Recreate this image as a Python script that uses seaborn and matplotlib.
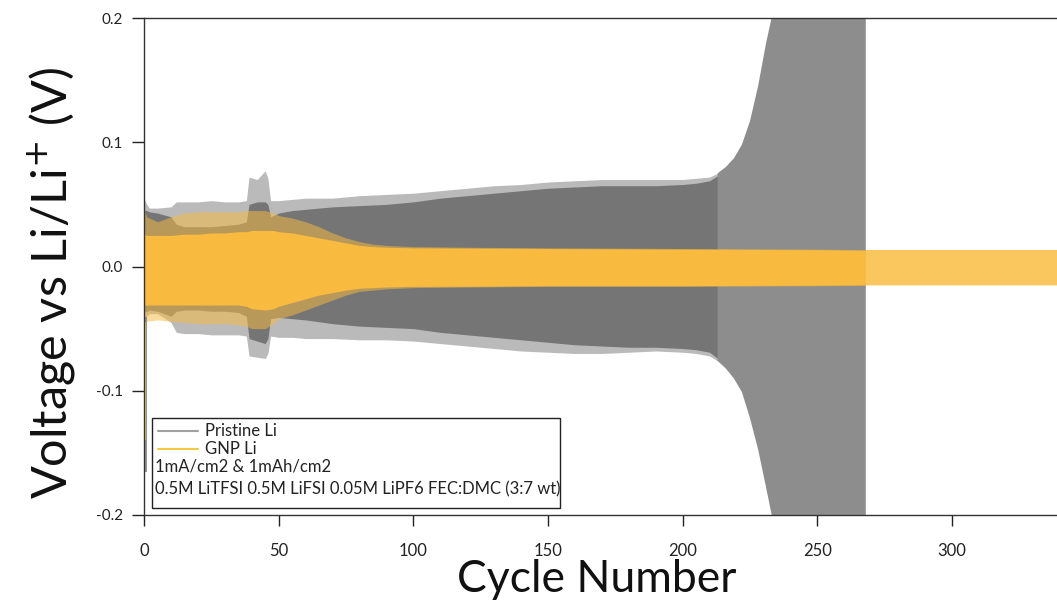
import numpy as np
import pandas as pd
import matplotlib
matplotlib.use("Agg")
import matplotlib.pyplot as plt
import seaborn as sns
from matplotlib.patches import Rectangle

# ---------------- data ----------------
# Pristine Li (grey)
P_cyc = [0, 1, 2, 5, 10, 12, 15, 20, 25, 30, 35, 38, 39, 42, 45, 46, 47, 50, 55, 60,
         70, 80, 90, 100, 110, 120, 130, 140, 150, 160, 170, 180, 190, 200, 205, 210,
         213, 216, 219, 222, 225, 228, 231, 234, 237, 240, 250, 260, 268]
P_peak_hi = [0.055, 0.050, 0.047, 0.047, 0.048, 0.052, 0.052, 0.052, 0.053, 0.052, 0.052,
             0.053, 0.072, 0.070, 0.077, 0.071, 0.053, 0.053, 0.054, 0.055, 0.055, 0.057,
             0.058, 0.059, 0.061, 0.063, 0.065, 0.066, 0.068, 0.069, 0.070, 0.070, 0.070,
             0.070, 0.071, 0.072, 0.075, 0.080, 0.087, 0.098, 0.117, 0.145, 0.180, 0.210,
             0.250, 0.250, 0.250, 0.250, 0.250]
P_peak_lo = [-0.041, -0.040, -0.038, -0.038, -0.045, -0.053, -0.054, -0.054, -0.055, -0.055,
             -0.055, -0.056, -0.072, -0.073, -0.074, -0.070, -0.056, -0.057, -0.057, -0.058,
             -0.058, -0.059, -0.059, -0.060, -0.062, -0.064, -0.066, -0.068, -0.069, -0.070,
             -0.070, -0.069, -0.068, -0.069, -0.070, -0.072, -0.076, -0.082, -0.090, -0.101,
             -0.122, -0.147, -0.178, -0.210, -0.250, -0.250, -0.250, -0.250, -0.250]
P_plat_hi = [0.045, 0.045, 0.044, 0.043, 0.040, 0.034, 0.032, 0.032, 0.032, 0.033, 0.034,
             0.036, 0.050, 0.052, 0.052, 0.050, 0.040, 0.043, 0.045, 0.046, 0.048, 0.049,
             0.050, 0.052, 0.055, 0.057, 0.059, 0.061, 0.063, 0.064, 0.065, 0.065, 0.065,
             0.066, 0.067, 0.069, 0.073]
P_plat_lo = [-0.036, -0.036, -0.035, -0.036, -0.040, -0.036, -0.035, -0.035, -0.036, -0.036,
             -0.037, -0.040, -0.058, -0.060, -0.062, -0.058, -0.042, -0.041, -0.042, -0.043,
             -0.046, -0.048, -0.049, -0.050, -0.053, -0.055, -0.057, -0.059, -0.061, -0.063,
             -0.064, -0.065, -0.065, -0.066, -0.067, -0.069, -0.074]
P_first_low = -0.165

# GNP Li (yellow)
G_cyc = [0, 1, 5, 10, 15, 20, 25, 30, 35, 38, 40, 45, 48, 50, 55, 60, 65, 70, 75, 80,
         85, 90, 100, 120, 150, 200, 250, 268, 300, 339]
G_peak_hi = [0.046, 0.040, 0.036, 0.040, 0.043, 0.044, 0.044, 0.044, 0.044, 0.045, 0.045,
             0.045, 0.043, 0.041, 0.039, 0.036, 0.032, 0.027, 0.023, 0.020, 0.018, 0.017,
             0.016, 0.0155, 0.015, 0.0145, 0.014, 0.0135, 0.0135, 0.0135]
G_peak_lo = [-0.045, -0.044, -0.043, -0.044, -0.045, -0.046, -0.046, -0.046, -0.047, -0.048,
             -0.050, -0.050, -0.046, -0.042, -0.039, -0.035, -0.031, -0.027, -0.023, -0.020,
             -0.019, -0.018, -0.017, -0.0165, -0.016, -0.016, -0.0155, -0.015, -0.015, -0.015]
G_plat_hi = [0.026, 0.025, 0.025, 0.025, 0.026, 0.026, 0.027, 0.027, 0.028, 0.028, 0.029,
             0.029, 0.029, 0.028, 0.027, 0.025, 0.023, 0.021, 0.019, 0.017, 0.016, 0.0155,
             0.015, 0.0148, 0.0145, 0.014, 0.0135, 0.013, 0.013, 0.013]
G_plat_lo = [-0.031, -0.031, -0.031, -0.031, -0.031, -0.031, -0.031, -0.031, -0.031, -0.032,
             -0.034, -0.035, -0.034, -0.032, -0.029, -0.026, -0.023, -0.021, -0.019, -0.0175,
             -0.017, -0.0165, -0.016, -0.016, -0.0155, -0.0155, -0.015, -0.0148, -0.0148, -0.0148]
G_first_low = -0.140

x_ticks = [0, 50, 100, 150, 200, 250, 300]
y_ticks = [-0.2, -0.1, 0.0, 0.1, 0.2]
y_tick_labels = ["-0.2", "-0.1", "0.0", "0.1", "0.2"]
legend_series = ["Pristine Li", "GNP Li"]
legend_notes = ["1mA/cm2 & 1mAh/cm2",
                "0.5M LiTFSI 0.5M LiFSI 0.05M LiPF6 FEC:DMC (3:7 wt)"]

# ---------------- styling ----------------
sns.set_theme(style="ticks")
plt.rcParams["font.family"] = ["Lato", "DejaVu Sans"]

C_GREY_LIGHT = "#bababa"
C_GREY_DARK = "#757575"
C_GREY_MID = "#8d8d8d"
C_ORANGE = "#f8bb40"
C_ORANGE_LATE = "#f9c75e"

fig = plt.figure(figsize=(10.57, 6.11), dpi=100)
ax = fig.add_axes([144 / 1057, 96 / 611, 913 / 1057, 497 / 611])

pdf = pd.DataFrame({"cyc": P_cyc, "hi": P_peak_hi, "lo": P_peak_lo})
merge_cycle = P_cyc[len(P_plat_hi) - 1]
early = pdf[pdf.cyc <= merge_cycle]
late = pdf[pdf.cyc >= merge_cycle]
gdf = pd.DataFrame({"cyc": G_cyc, "hi": G_plat_hi, "lo": G_plat_lo})
g_end = P_cyc[-1]
g_early = gdf[gdf.cyc <= g_end]
g_late = gdf[gdf.cyc >= g_end]

# grey: outer peak band (light), plateau band (dark), late merged band (mid)
ax.fill_between(early.cyc, early.lo, early.hi, color=C_GREY_LIGHT, lw=0)
ax.fill_between(P_cyc[:len(P_plat_hi)], P_plat_lo, P_plat_hi, color=C_GREY_DARK, lw=0)
ax.fill_between(late.cyc, late.lo, late.hi, color=C_GREY_MID, lw=0)
ax.vlines([P_cyc[0] + 0.9], [P_first_low], [P_peak_lo[0]], color="#8a8a8a", lw=1.3)

# yellow: outer peak band (semi-transparent), plateau (opaque)
ax.fill_between(G_cyc, G_peak_lo, G_peak_hi, color=C_ORANGE, alpha=0.52, lw=0)
ax.fill_between(g_early.cyc, g_early.lo, g_early.hi, color=C_ORANGE, lw=0)
ax.fill_between(g_late.cyc, g_late.lo, g_late.hi, color=C_ORANGE_LATE, lw=0)
ax.vlines([G_cyc[0] + 0.3], [G_first_low], [G_peak_lo[0]], color="#f2cf55", lw=1.3)

ax.set_xlim(0, 339)
ax.set_ylim(-0.2, 0.2)
ax.set_xticks(x_ticks)
ax.set_xticklabels([str(t) for t in x_ticks], fontsize=12)
ax.set_yticks(y_ticks)
ax.set_yticklabels(y_tick_labels, fontsize=11)
ax.tick_params(axis="x", direction="out", length=8, width=1, pad=12, colors="#222222")
ax.tick_params(axis="y", direction="out", length=9, width=1, pad=6, colors="#222222")
for s in ["left", "top", "bottom"]:
    ax.spines[s].set_visible(True)
    ax.spines[s].set_color("#333333")
    ax.spines[s].set_linewidth(1.0)
ax.spines["right"].set_visible(False)

fig.text(52 / 1057, 1 - 283 / 611, "Voltage vs Li/Li$^{+}$ (V)", rotation=90,
         ha="center", va="center", fontsize=35, color="#111111")
fig.text(597 / 1057, 1 - 580 / 611, "Cycle Number", ha="center", va="center",
         fontsize=32, color="#111111")

# legend box (Igor style text box)
box_l, box_r = (152 - 144) / 913, (560 - 144) / 913
box_b, box_t = (515 - 508) / 497, (515 - 418) / 497
ax.add_patch(Rectangle((box_l, box_b), box_r - box_l, box_t - box_b, transform=ax.transAxes,
                       facecolor="white", edgecolor="#222222", lw=1.0, zorder=5))
leg_colors = ["#a0a0a0", "#f5c842"]
leg_y = [431, 449]
for name, col, yy in zip(legend_series, leg_colors, leg_y):
    ya = (515 - yy) / 497
    ax.plot([(158 - 144) / 913, (198 - 144) / 913], [ya, ya], transform=ax.transAxes,
            color=col, lw=1.5, zorder=6)
    ax.text((205 - 144) / 913, ya, name, transform=ax.transAxes, ha="left", va="center",
            fontsize=12, color="#222222", zorder=6)
for note, yy in zip(legend_notes, [467, 489]):
    ax.text((155 - 144) / 913, (515 - yy) / 497, note, transform=ax.transAxes, ha="left",
            va="center", fontsize=12, color="#222222", zorder=6)

fig.savefig("out.png", dpi=100)
